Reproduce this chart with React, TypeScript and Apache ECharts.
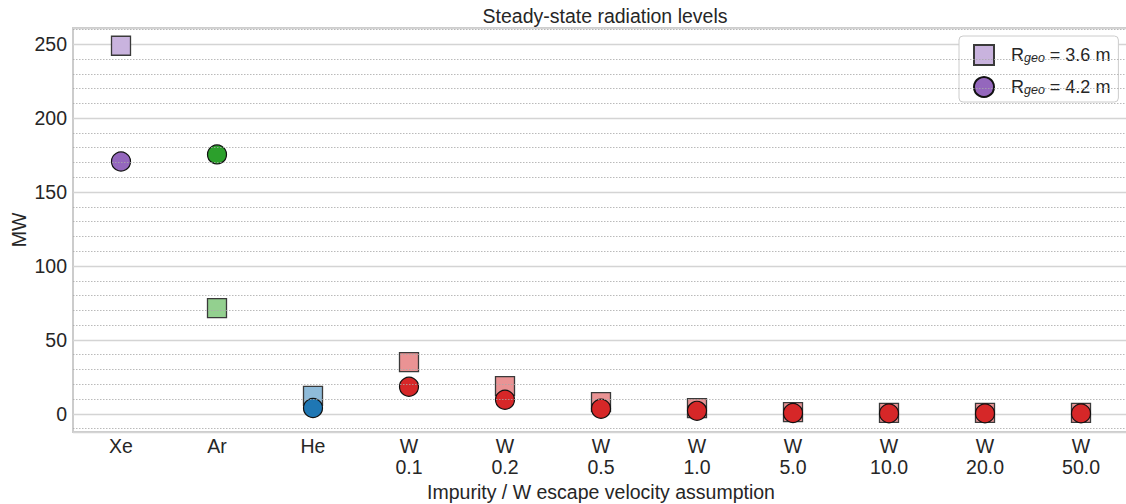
import React, { useEffect, useRef } from "react";
import * as echarts from "echarts";

const categories = ["Xe", "Ar", "He", "W\n0.1", "W\n0.2", "W\n0.5", "W\n1.0", "W\n5.0", "W\n10.0", "W\n20.0", "W\n50.0"];
const rgeo36 = [249.0, 71.5, 12.2, 35.0, 18.8, 7.9, 3.9, 1.2, 0.7, 0.7, 0.7];
const rgeo42 = [170.7, 175.5, 3.9, 18.3, 9.5, 3.4, 2.0, 0.5, 0.3, 0.3, 0.3];
const darkColors = ["#9467bd", "#2ca02c", "#1f77b4", "#d62728", "#d62728", "#d62728", "#d62728", "#d62728", "#d62728", "#d62728", "#d62728"];
const lightColors = ["#c9b3de", "#93d08f", "#8fbbd9", "#ea9394", "#ea9394", "#ea9394", "#ea9394", "#ea9394", "#ea9394", "#ea9394", "#ea9394"];
const seriesNames = ["R_geo = 3.6 m", "R_geo = 4.2 m"];
const legendLabels: Record<string, string> = {
  "R_geo = 3.6 m": "{a|R}{b|geo}{a| = 3.6 m}",
  "R_geo = 4.2 m": "{a|R}{b|geo}{a| = 4.2 m}",
};
const minorGrid = [-10, 10, 20, 30, 40, 60, 70, 80, 90, 110, 120, 130, 140, 160, 170, 180, 190, 210, 220, 230, 240, 260];

const FONT = "'Liberation Sans', Arial, sans-serif";
const FS = 19.5;

export default function App() {
  const ref = useRef<HTMLDivElement>(null);
  useEffect(() => {
    const chart = echarts.init(ref.current!, undefined, { renderer: "svg" });
    chart.setOption({
      animation: false,
      backgroundColor: "#ffffff",
      textStyle: { fontFamily: FONT },
      title: {
        text: "Steady-state radiation levels",
        left: 600,
        textAlign: "center",
        top: 1,
        textStyle: { fontSize: FS, fontWeight: "normal", color: "#262626", fontFamily: FONT },
      },
      legend: {
        orient: "vertical",
        left: 959,
        top: 36,
        data: seriesNames,
        itemWidth: 20,
        itemHeight: 20,
        itemGap: 8,
        padding: [6, 8, 4, 14],
        borderColor: "#cccccc",
        borderWidth: 1,
        borderRadius: 4,
        backgroundColor: "#ffffff",
        formatter: (name: string) => legendLabels[name] || name,
        textStyle: {
          fontFamily: FONT,
          color: "#262626",
          padding: [0, 0, 0, 12],
          rich: {
            a: { fontSize: 18, color: "#262626", fontFamily: FONT },
            b: { fontSize: 12.5, fontStyle: "italic", color: "#262626", fontFamily: FONT, verticalAlign: "bottom", lineHeight: 10, padding: [9, 0, 0, 0] },
          },
        },
      },
      grid: {
        left: 73,
        top: 28,
        width: 1056,
        height: 404,
        show: true,
        borderColor: "#cccccc",
        borderWidth: 2,
        backgroundColor: "transparent",
        outerBoundsMode: "none",
        containLabel: false,
      },
      xAxis: {
        type: "category",
        data: categories,
        boundaryGap: true,
        name: "Impurity / W escape velocity assumption",
        nameLocation: "middle",
        nameGap: 46,
        nameTextStyle: { fontSize: FS, color: "#262626", fontFamily: FONT },
        axisLine: { show: false },
        axisTick: { show: false },
        splitLine: { show: false },
        axisLabel: { fontSize: FS, color: "#262626", lineHeight: 21, margin: 3, fontFamily: FONT, interval: 0 },
      },
      yAxis: {
        type: "value",
        min: -12.3,
        max: 261,
        splitNumber: 5,
        name: "MW",
        nameLocation: "middle",
        nameGap: 44,
        nameMoveOverlap: false,
        nameTextStyle: { fontSize: FS, color: "#262626", fontFamily: FONT },
        axisLine: { show: false },
        axisTick: { show: false },
        axisLabel: { fontSize: FS, color: "#262626", margin: 6, showMinLabel: false, showMaxLabel: false, fontFamily: FONT },
        splitLine: { show: true, lineStyle: { color: "#d4d4d4", width: 1.3 } },
      },
      series: [
        {
          name: "minor-grid",
          type: "line",
          data: [],
          silent: true,
          markLine: {
            silent: true,
            symbol: ["none", "none"],
            label: { show: false },
            lineStyle: { type: [1.5, 1.5], color: "#a8a8a8", width: 0.8 },
            emphasis: { disabled: true },
            data: minorGrid.map((v) => ({ yAxis: v })),
          },
          z: 1,
        },
        {
          name: seriesNames[0],
          type: "scatter",
          symbol: "rect",
          symbolSize: 19,
          itemStyle: { color: "#c9b3de", borderColor: "#3a3a3a", borderWidth: 1.3, opacity: 1 },
          data: rgeo36.map((v, i) => ({ value: v, itemStyle: { color: lightColors[i] } })),
          z: 3,
        },
        {
          name: seriesNames[1],
          type: "scatter",
          symbol: "circle",
          symbolSize: 19,
          itemStyle: { color: "#9467bd", borderColor: "#111111", borderWidth: 1.2, opacity: 1 },
          data: rgeo42.map((v, i) => ({ value: v, itemStyle: { color: darkColors[i] } })),
          z: 4,
        },
      ],
    });
    return () => chart.dispose();
  }, []);
  return <div ref={ref} style={{ position: "fixed", left: 0, top: 0, width: 1126, height: 504 }} />;
}
